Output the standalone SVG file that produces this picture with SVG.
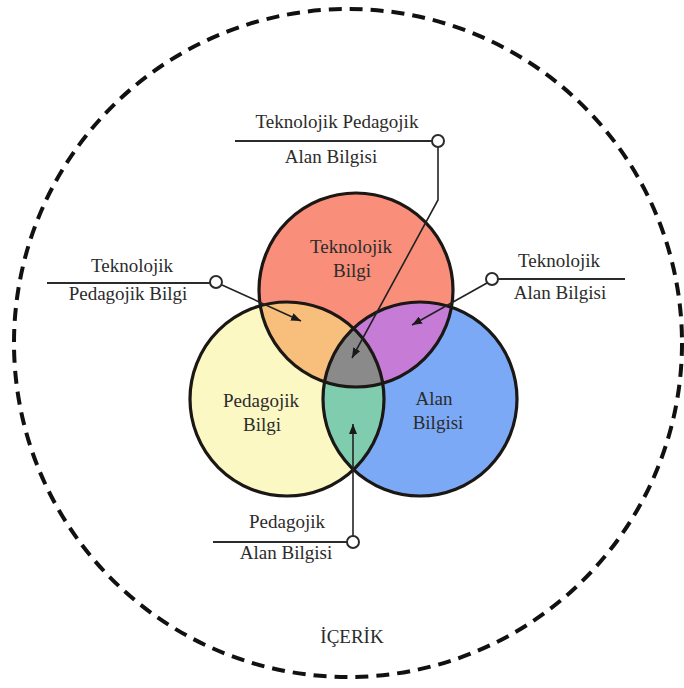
<svg xmlns="http://www.w3.org/2000/svg" xmlns:xlink="http://www.w3.org/1999/xlink" width="684" height="688" viewBox="0 0 684 688">
  <style>
    .lbl { font-family: "Liberation Serif", "DejaVu Serif", serif; font-size: 19px; fill: #2b2b2b; text-anchor: middle; }
    .ring { fill: none; stroke: #1b1714; stroke-width: 3.2; }
    .rule { stroke: #2b2b2b; stroke-width: 2; fill: none; }
    .knob { fill: #ffffff; stroke: #2b2b2b; stroke-width: 2; }
    .wire { stroke: #222222; stroke-width: 1.6; fill: none; marker-end: url(#tip); }
  </style>
  <defs>
    <marker id="tip" viewBox="0 0 10 8" refX="10" refY="4" markerWidth="10" markerHeight="8" markerUnits="userSpaceOnUse" orient="auto">
      <path d="M0,0 L10,4 L0,8 Z" fill="#1a1a1a"/>
    </marker>
    <circle id="cT" cx="356" cy="290" r="97"/>
    <circle id="cP" cx="287" cy="399" r="97"/>
    <circle id="cA" cx="420" cy="399" r="97"/>
    <clipPath id="inT"><use xlink:href="#cT"/></clipPath>
    <clipPath id="inP"><use xlink:href="#cP"/></clipPath>
    <clipPath id="inTP" clip-path="url(#inT)"><use xlink:href="#cP"/></clipPath>
  </defs>

  <rect width="684" height="688" fill="#ffffff"/>

  <g font-family="Liberation Serif, DejaVu Serif, serif">
  <!-- context boundary -->
  <g id="icerik">
    <circle cx="348" cy="343" r="334" fill="none" stroke="#111" stroke-width="4" stroke-dasharray="13 8"/>
    <text class="lbl" x="352" y="643">İÇERİK</text>
  </g>

  <!-- the three knowledge areas -->
  <g id="teknolojik-bilgi">
    <use xlink:href="#cT" fill="#f98e7a"/>
  </g>
  <g id="pedagojik-bilgi">
    <use xlink:href="#cP" fill="#fbf8c4"/>
  </g>
  <g id="alan-bilgisi">
    <use xlink:href="#cA" fill="#7ba9f6"/>
  </g>

  <!-- pairwise and triple overlaps -->
  <g id="tpb">
    <use xlink:href="#cP" fill="#f8be7c" clip-path="url(#inT)"/>
  </g>
  <g id="tab">
    <use xlink:href="#cA" fill="#c67bd6" clip-path="url(#inT)"/>
  </g>
  <g id="pab">
    <use xlink:href="#cA" fill="#80ccae" clip-path="url(#inP)"/>
  </g>
  <g id="tpab">
    <use xlink:href="#cA" fill="#8a8a8a" clip-path="url(#inTP)"/>
  </g>

  <!-- outlines -->
  <g id="outlines">
    <use xlink:href="#cT" class="ring"/>
    <use xlink:href="#cP" class="ring"/>
    <use xlink:href="#cA" class="ring"/>
  </g>

  <!-- area names -->
  <g id="area-names">
    <text class="lbl" x="351" y="253">Teknolojik</text>
    <text class="lbl" x="352" y="277">Bilgi</text>
    <text class="lbl" x="261" y="407">Pedagojik</text>
    <text class="lbl" x="262" y="431">Bilgi</text>
    <text class="lbl" x="434" y="405">Alan</text>
    <text class="lbl" x="438" y="429">Bilgisi</text>
  </g>

  <!-- callout labels -->
  <g id="label-tpab">
    <text class="lbl" x="337" y="128">Teknolojik Pedagojik</text>
    <line class="rule" x1="235" y1="141" x2="432" y2="141"/>
    <text class="lbl" x="331" y="163">Alan Bilgisi</text>
  </g>
  <g id="label-tpb">
    <text class="lbl" x="132" y="272">Teknolojik</text>
    <line class="rule" x1="47" y1="283" x2="210" y2="283"/>
    <text class="lbl" x="128" y="300">Pedagojik Bilgi</text>
  </g>
  <g id="label-tab">
    <text class="lbl" x="559" y="267">Teknolojik</text>
    <line class="rule" x1="498" y1="279" x2="625" y2="279"/>
    <text class="lbl" x="560" y="299">Alan Bilgisi</text>
  </g>
  <g id="label-pab">
    <text class="lbl" x="287" y="528">Pedagojik</text>
    <line class="rule" x1="213" y1="542" x2="347" y2="542"/>
    <text class="lbl" x="286" y="559">Alan Bilgisi</text>
  </g>

  <!-- pointers -->
  <g id="connectors">
    <path class="wire" d="M438,147 L438,200 L352,358"/>
    <path class="wire" d="M222,285 L301,321"/>
    <path class="wire" d="M487,283 L412,325"/>
    <path class="wire" d="M353,536 L353,424"/>
    <circle class="knob" cx="438" cy="141" r="6"/>
    <circle class="knob" cx="216" cy="282" r="6"/>
    <circle class="knob" cx="492" cy="279" r="6"/>
    <circle class="knob" cx="353" cy="542" r="6"/>
  </g>
  </g>
</svg>
